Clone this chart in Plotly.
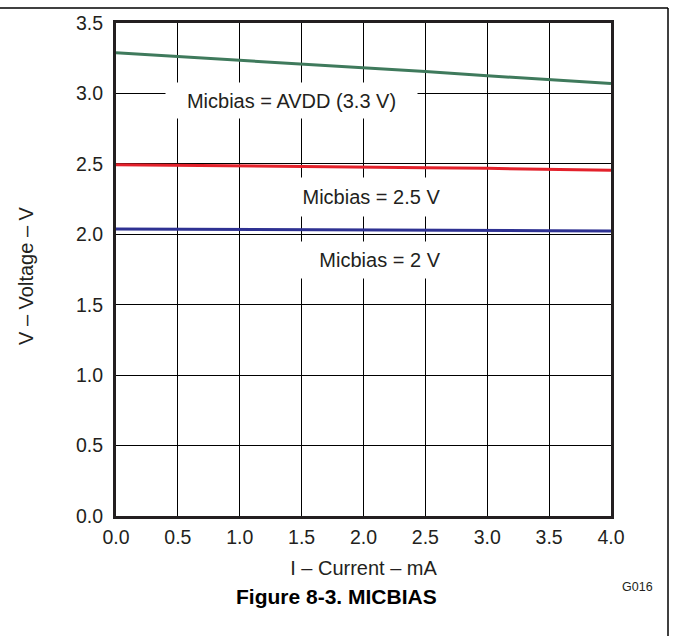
import plotly.graph_objects as go

# current in mA, voltage in V
current = [0.0, 0.5, 1.0, 1.5, 2.0, 2.5, 3.0, 3.5, 4.0]
v_avdd = [3.288, 3.262, 3.232, 3.205, 3.180, 3.155, 3.126, 3.097, 3.070]
v_2p5 = [2.493, 2.490, 2.486, 2.482, 2.478, 2.473, 2.468, 2.462, 2.455]
v_2p0 = [2.037, 2.036, 2.034, 2.033, 2.031, 2.029, 2.027, 2.025, 2.023]

series_names = ["Micbias = AVDD (3.3 V)", "Micbias = 2.5 V", "Micbias = 2 V"]
series_colors = ["#3f7a5c", "#e3212b", "#2e3192"]

FONT = "Liberation Sans, Arial, sans-serif"
W, H = 673, 636
ML, MR, MT, MB = 116, 62, 21, 120

fig = go.Figure()
for ys, name, col in zip([v_avdd, v_2p5, v_2p0], series_names, series_colors):
    fig.add_trace(go.Scatter(x=current, y=ys, mode="lines", name=name,
                             line=dict(color=col, width=3), showlegend=False))

axis_common = dict(
    showgrid=True, gridcolor="black", gridwidth=1,
    showline=True, linecolor="#231f20", linewidth=3, mirror=True,
    zeroline=False, ticks="", dtick=0.5, tickformat=".1f",
    tickfont=dict(family=FONT, size=19.5, color="#231f20"),
)

fig.update_xaxes(range=[0, 4], tick0=0, ticklabelstandoff=2,
                 title=dict(text="I – Current – mA", standoff=14,
                            font=dict(family=FONT, size=20, color="#231f20")),
                 **axis_common)
fig.update_yaxes(range=[0, 3.5], tick0=0, ticklabelstandoff=6, **axis_common)


def px_x(p):
    return (p - ML) / (W - ML - MR)


def px_y(p):
    return (H - MB - p) / (H - MT - MB)


# curve labels with white boxes that cut the grid lines
labels = [
    (series_names[0], 1.418, 2.952, 251, 35),
    (series_names[1], 2.065, 2.263, 173, 38),
    (series_names[2], 2.133, 1.817, 158, 36),
]
for txt, x, y, w, h in labels:
    fig.add_annotation(x=x, y=y, xref="x", yref="y", text=txt, showarrow=False,
                       bgcolor="white", borderpad=0, width=w, height=h,
                       font=dict(family=FONT, size=20, color="#231f20"))

side_texts = [
    ("V – Voltage – V", 26, 275, -90, 20, "#231f20"),
    ("G016", 637, 587, 0, 12.5, "#231f20"),
    ("<b>Figure 8-3. MICBIAS</b>", 336, 597, 0, 21, "black"),
]
for txt, x, y, ang, size, col in side_texts:
    fig.add_annotation(x=px_x(x), y=px_y(y), xref="paper", yref="paper",
                       xanchor="center", yanchor="middle",
                       text=txt, textangle=ang, showarrow=False,
                       font=dict(family=FONT, size=size, color=col))

# page frame: top and right edges
fig.add_shape(type="line", xref="paper", yref="paper",
              x0=px_x(-5), x1=px_x(668), y0=px_y(6), y1=px_y(6),
              line=dict(color="black", width=1.5))
fig.add_shape(type="line", xref="paper", yref="paper",
              x0=px_x(668), x1=px_x(668), y0=px_y(6), y1=px_y(645),
              line=dict(color="black", width=1.5))

fig.update_layout(
    width=W, height=H, autosize=False,
    margin=dict(l=ML, r=MR, t=MT, b=MB),
    paper_bgcolor="white", plot_bgcolor="white",
    font=dict(family=FONT, color="#231f20"),
)

fig.write_html("out.html", config={"displayModeBar": False},
               post_script="document.body.style.margin='0px';")
